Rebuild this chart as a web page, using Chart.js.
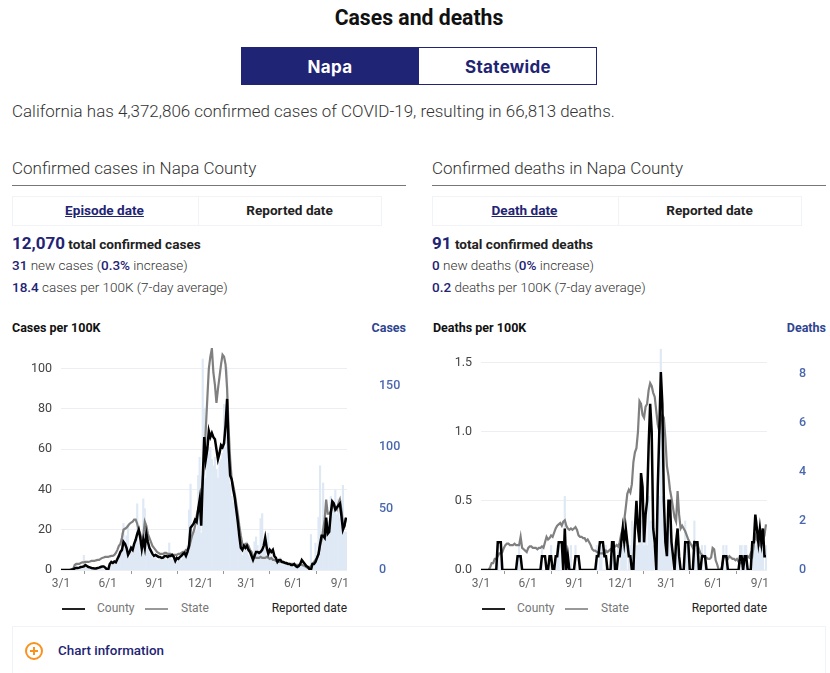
<!DOCTYPE html>
<html>
<head>
<meta charset="utf-8">
<title>Cases and deaths</title>
<script src="https://cdn.jsdelivr.net/npm/chart.js@4"></script>
<style>
  html, body { margin: 0; padding: 0; background: #fff; }
  body { width: 830px; height: 673px; position: relative; overflow: hidden; font-family: Roboto, sans-serif; color: #222; }
  .abs { position: absolute; white-space: nowrap; line-height: 1; }
  .navy { color: #1f2474; }
  .lite { font-weight: 300; color: #333; }
  b.num { font-weight: 500; color: #1f2474; }
  canvas { position: absolute; }
  .rule { position: absolute; height: 1px; width: 394px; background: #777; top: 185px; }
  .tabs { position: absolute; top: 196px; width: 370px; height: 30px; border: 1px solid #f1f3f6; box-sizing: border-box; }
  .tabs i { position: absolute; left: 185px; top: 0; width: 1px; height: 100%; background: #f1f3f6; }
  .key { position: absolute; height: 2px; width: 23px; top: 608px; }
</style>
</head>
<body>
<div class="abs" style="left:0;width:838px;text-align:center;top:7px;font-size:21.2px;font-weight:700;color:#111">Cases and deaths</div>

<div style="position:absolute;left:241px;top:47px;width:356px;height:38px;border:1px solid #1f2474;box-sizing:border-box"></div>
<div style="position:absolute;left:241px;top:47px;width:178px;height:38px;background:#1f2474"></div>
<div class="abs" style="left:241px;width:178px;text-align:center;top:57px;font:700 17px Inter,sans-serif;letter-spacing:.3px;color:#fff">Napa</div>
<div class="abs navy" style="left:419px;width:178px;text-align:center;top:57px;font:700 17px Inter,sans-serif;letter-spacing:.3px">Statewide</div>

<div class="abs lite" style="left:12px;top:103px;font-size:16.95px">California has 4,372,806 confirmed cases of COVID-19, resulting in 66,813 deaths.</div>

<div class="abs lite" style="left:12px;top:160px;font-size:17px">Confirmed cases in Napa County</div>
<div class="abs lite" style="left:432px;top:160px;font-size:17px">Confirmed deaths in Napa County</div>
<div class="rule" style="left:12px"></div>
<div class="rule" style="left:432px"></div>

<div class="tabs" style="left:12px"><i></i></div>
<div class="tabs" style="left:432px"><i></i></div>
<div class="abs navy" style="left:12px;width:185px;text-align:center;top:204px;font-size:13.6px;font-weight:700;text-decoration:underline">Episode date</div>
<div class="abs" style="left:197px;width:185px;text-align:center;top:204px;font-size:13.6px;font-weight:700">Reported date</div>
<div class="abs navy" style="left:432px;width:185px;text-align:center;top:204px;font-size:13.6px;font-weight:700;text-decoration:underline">Death date</div>
<div class="abs" style="left:617px;width:185px;text-align:center;top:204px;font-size:13.6px;font-weight:700">Reported date</div>

<div class="abs" style="left:12px;top:235px;font-size:13.6px;font-weight:700"><span class="navy" style="font-size:17px">12,070</span> total confirmed cases</div>
<div class="abs lite" style="left:12px;top:259px;font-size:13.5px"><b class="num">31</b> new cases (<b class="num">0.3%</b> increase)</div>
<div class="abs lite" style="left:12px;top:281px;font-size:13.5px"><b class="num">18.4</b> cases per 100K (7-day average)</div>

<div class="abs" style="left:432px;top:235px;font-size:13.6px;font-weight:700"><span class="navy" style="font-size:17px">91</span> total confirmed deaths</div>
<div class="abs lite" style="left:432px;top:259px;font-size:13.5px"><b class="num">0</b> new deaths (<b class="num">0%</b> increase)</div>
<div class="abs lite" style="left:432px;top:281px;font-size:13.5px"><b class="num">0.2</b> deaths per 100K (7-day average)</div>

<div class="abs" style="left:12px;top:322px;font-size:12.5px;font-weight:700;color:#111">Cases per 100K</div>
<div class="abs" style="right:424px;top:322px;font-size:12.5px;font-weight:700;color:#2f4590">Cases</div>
<div class="abs" style="left:433px;top:322px;font-size:12.5px;font-weight:700;color:#111">Deaths per 100K</div>
<div class="abs" style="right:4px;top:322px;font-size:12.5px;font-weight:700;color:#2f4590">Deaths</div>

<canvas id="casesChart" width="394" height="250" style="left:12px;top:340px"></canvas>
<canvas id="deathsChart" width="394" height="250" style="left:432px;top:340px"></canvas>

<div class="key" style="left:62px;background:#222"></div>
<div class="abs" style="left:97px;top:602px;font-size:12px;color:#777">County</div>
<div class="key" style="left:145px;background:#999"></div>
<div class="abs" style="left:181px;top:602px;font-size:12px;color:#777">State</div>
<div class="abs" style="right:483px;top:602px;font-size:12px;color:#222">Reported date</div>

<div class="key" style="left:482px;background:#222"></div>
<div class="abs" style="left:517px;top:602px;font-size:12px;color:#777">County</div>
<div class="key" style="left:565px;background:#999"></div>
<div class="abs" style="left:601px;top:602px;font-size:12px;color:#777">State</div>
<div class="abs" style="right:63px;top:602px;font-size:12px;color:#222">Reported date</div>

<div style="position:absolute;left:12px;top:626px;width:814px;height:60px;border:1px solid #f1f3f6;box-sizing:border-box"></div>
<div style="position:absolute;left:25px;top:642px;width:18px;height:18px;border:2px solid #f7931e;border-radius:50%;box-sizing:border-box"></div>
<div style="position:absolute;left:30px;top:650px;width:8px;height:2px;background:#f7931e"></div>
<div style="position:absolute;left:33px;top:647px;width:2px;height:8px;background:#f7931e"></div>
<div class="abs navy" style="left:58px;top:644px;font-size:13.4px;font-weight:500">Chart information</div>

<script>
// readings taken every 3 days, starting 3/1/2020
const sampleStep = 3;
const tickDays = [0, 92, 184, 275, 365, 457, 549];
const tickLabels = ["3/1", "6/1", "9/1", "12/1", "3/1", "6/1", "9/1"];

const countyCases = [
  0,0,0,0,0,0,0,0.2,0.3,0.8,
  1,1,1.2,1.5,1.6,1.8,2.5,2,1.5,1.3,
  1,0.9,0.8,0.8,1,1.2,1.5,1.8,1.8,1.2,
  0.4,0.2,3,4,3.5,4.2,3.8,5.5,7,9,
  10,14,13,11,7.5,9,11,10,13,15,
  18,20,16,10.5,15,11,18,14,11,9.5,
  8,7,7.5,7,6.5,6.5,6,6.2,7,7,
  6.5,7,7,7.5,6.5,4.5,6,5.5,6.5,7,
  8,8.5,7,9,12,21,22,23,25,24,
  30,35,22,45,66,55,60,69,66,68,
  66,65,60,55,58,62,61,63,72,85,
  60,47,45,40,36,30,24,17,11,10,
  12,11,12,10,9,7,5,7,9,9,
  8.5,9,10,12,16,11,8,10,9,10,
  7,6,4,5,5,4,4,3.5,3.5,3,
  3,2.5,2.5,3,2,1.5,2,3,5,4,
  3,2,1.5,0.5,0,3,3,4,6,8,
  13,17,17,16,26,18,19,28,34,33,
  30,31,32,33,27,20,22,26
];

const stateCases = [
  0,0,0,0,0,0,0,0,0.5,2.5,
  3,3,3,3.5,3.8,3.8,4,4,4,4.2,
  4.5,4.5,4.5,4.8,5,5,5.5,6,6.2,6.5,
  6.5,6.5,6.8,7,7,7.5,8.5,10,12,13,
  16,20,20.5,21,22,23,23.5,24,25,25,
  23,20,18,15,17,24,22,18,16,14,
  12,11,10,9,8.5,8,8,8,8.5,8.5,
  8,8,8,7.5,7.5,7.5,7.5,8,8,8.5,
  9,9,10,10,11,14,17,19,22,27,
  30,33,38,45,55,70,85,100,106,110,
  98,92,83,90,96,102,107,106,102,90,
  70,55,45,42,38,33,28,22,17,13,
  12,13,13,12,10,9,7,6.5,6,6,
  6,6.5,6,6,6,6.5,6,5.5,6,5,
  5,4.5,4.5,4,4,4,3.5,3.5,3,3,
  3,3,3,2.8,2.5,2.5,2.5,2.5,2.5,2.2,
  2,1.5,1,1.2,2,3,4,5,6,8,
  12,15,20,25,35,28,28,29,31,33,
  31,30,33,35,30,23,22,26
];

const casesPerDay = [
  0,0,0,0,0,0,1,0,2,3,
  4,2,1,3,2,12,3,2,2,1,
  2,1,1,2,1,2,3,2,1,2,
  1,0,3,6,4,5,6,8,12,14,
  30,38,20,28,36,10,15,14,18,25,
  54,22,14,12,58,50,25,18,14,12,
  10,9,10,8,8,9,8,9,10,8,
  9,22,9,8,9,8,6,10,9,8,
  10,14,9,20,49,70,30,28,35,32,
  77,92,30,172,132,75,108,95,100,90,
  85,92,82,75,88,90,95,135,100,165,
  110,70,60,55,60,42,30,22,18,12,
  15,22,23,12,10,8,6,23,27,20,
  14,42,46,20,18,12,30,14,10,12,
  8,7,5,6,10,4,5,4,5,3,
  3,4,3,2,3,2,3,5,8,4,
  3,2,1,0,29,3,5,22,8,43,
  85,25,71,49,30,40,35,60,50,55,
  65,45,58,42,57,69,31,31
];

const countyDeaths = [
  0,0,0,0,0,0,0,0,0,0,
  0,0.2,0.2,0.2,0,0,0,0,0,0,
  0,0,0,0,0.1,0.1,0.1,0,0,0,
  0,0,0,0,0,0,0,0,0,0,
  0.1,0.1,0.1,0,0,0.1,0.1,0,0,0.1,
  0.1,0.2,0.2,0.2,0,0.3,0,0.1,0,0,
  0,0,0.1,0.1,0.1,0,0,0,0,0,
  0,0,0,0,0,0,0.1,0.1,0.2,0.2,
  0.2,0.1,0.1,0,0,0,0.2,0.2,0,0,
  0.1,0.1,0.2,0.3,0.2,0.3,0.2,0.1,0.1,0,
  0,0.3,0.5,0.3,0.2,0.7,0.6,0.2,0.4,0.5,
  0.9,1.2,1,0.3,0.2,0,0.6,1,1.43,1.2,
  0.5,0.2,0.1,0.5,0.5,0.2,0.1,0,0.2,0.3,
  0.1,0,0,0,0.2,0.2,0.2,0,0,0,
  0.2,0.2,0.2,0,0,0.1,0.1,0.1,0,0,
  0,0,0,0,0,0,0,0,0,0.1,
  0.1,0.1,0,0,0,0,0,0,0,0,
  0.1,0.1,0,0.1,0.1,0,0,0,0.2,0.2,
  0.4,0.3,0.2,0.3,0.2,0.3,0.1,0.1
];

const stateDeaths = [
  0,0,0,0,0,0,0.02,0.05,0.05,0.08,
  0.08,0.1,0.12,0.12,0.13,0.16,0.18,0.19,0.19,0.18,
  0.18,0.18,0.19,0.18,0.18,0.18,0.24,0.16,0.15,0.14,
  0.13,0.16,0.17,0.17,0.16,0.16,0.16,0.15,0.16,0.16,
  0.17,0.16,0.2,0.24,0.22,0.23,0.25,0.24,0.27,0.3,
  0.32,0.33,0.34,0.32,0.35,0.36,0.32,0.3,0.29,0.3,
  0.29,0.3,0.31,0.29,0.25,0.24,0.24,0.23,0.23,0.21,
  0.22,0.2,0.18,0.15,0.14,0.14,0.13,0.13,0.12,0.12,
  0.12,0.11,0.14,0.13,0.14,0.15,0.14,0.16,0.17,0.18,
  0.17,0.2,0.26,0.3,0.36,0.45,0.55,0.58,0.56,0.62,
  0.78,0.85,0.88,1,1.22,1.2,1.12,1.1,1.18,1.2,
  1.3,1.35,1.33,1.28,1.25,1.15,1.05,1,1.08,1.12,
  1.1,0.95,0.75,0.68,0.58,0.52,0.45,0.38,0.35,0.57,
  0.4,0.3,0.32,0.3,0.28,0.25,0.22,0.2,0.18,0.16,
  0.2,0.18,0.19,0.15,0.12,0.11,0.1,0.09,0.09,0.08,
  0.08,0.09,0.16,0.15,0.07,0.04,0,0,0.02,0.08,
  0.1,0.09,0.08,0.1,0.09,0.08,0.08,0.07,0.08,0.06,
  0.05,0.05,0.07,0.08,0.08,0.1,0.09,0.12,0.1,0.18,
  0.25,0.22,0.2,0.18,0.25,0.22,0.25,0.33
];

const deathsPerDay = [
  0,0,0,0,0,0,0,0,0,0,
  0,1,0,1,0,0,0,0,0,0,
  0,0,0,0,0,1,0,0,0,0,
  0,0,0,0,0,0,0,0,0,0,
  1,0,0,0,0,0,1,0,0,0,
  1,1,0,1,0,3,1,0,0,1,
  0,0,1,0,0,0,0,0,0,0,
  0,0,0,0,0,0,1,0,1,1,
  0,0,1,0,0,0,1,1,0,0,
  1,0,1,1,1,1,0,1,1,2,
  0,2,1,1,2,2,2,1,2,1,
  3,2,2,1,0,0,2,3,9,3,
  2,1,1,2,2,1,0,0,1,1,
  0,0,0,0,2,1,1,0,0,0,
  2,1,1,0,0,1,0,1,0,0,
  0,0,0,0,0,0,0,0,0,1,
  0,1,0,0,0,0,0,0,0,0,
  1,1,0,1,1,0,0,0,1,1,
  1,2,1,1,1,1,0,1
];

function toPoints(values) {
  return values.map((v, i) => ({ x: i * sampleStep, y: v }));
}

// tick padding also feeds the scale's top/bottom margin, so clear it to keep the plot area fixed
function fixScale(scale, size) {
  if (scale.isHorizontal()) {
    scale.height = size;
  } else {
    scale.width = size;
  }
  scale.paddingTop = 0;
  scale.paddingBottom = 0;
  scale.paddingLeft = 0;
  scale.paddingRight = 0;
}

function renderChart(canvasId, county, state, daily, leftMax, rightMax, leftStep, rightStep, decimals) {
  const ctx = document.getElementById(canvasId).getContext("2d");

  new Chart(ctx, {
    type: "bar",
    data: {
      datasets: [
        {
          type: "line",
          label: "County",
          data: toPoints(county),
          yAxisID: "yLeft",
          borderColor: "#000",
          borderWidth: 2.5,
          pointRadius: 0,
          tension: 0,
          order: 1
        },
        {
          type: "line",
          label: "State",
          data: toPoints(state),
          yAxisID: "yLeft",
          borderColor: "#808080",
          borderWidth: 2.2,
          pointRadius: 0,
          tension: 0,
          order: 2
        },
        {
          label: "Daily",
          data: toPoints(daily),
          yAxisID: "yRight",
          backgroundColor: "#dfe9f5",
          barPercentage: 1,
          categoryPercentage: 1,
          order: 3
        }
      ]
    },
    options: {
      responsive: false,
      animation: false,
      layout: { padding: { top: 8 } },
      plugins: {
        legend: { display: false },
        title: { display: false },
        tooltip: { enabled: false }
      },
      scales: {
        x: {
          type: "linear",
          offset: false,
          min: 0,
          max: 563,
          afterBuildTicks: scale => { scale.ticks = tickDays.map(v => ({ value: v })); },
          afterFit: scale => fixScale(scale, 20),
          grid: { drawOnChartArea: false, tickLength: 4, color: "#999" },
          border: { display: false },
          ticks: {
            autoSkip: false,
            maxRotation: 0,
            padding: 3,
            color: "#666",
            font: { family: "Roboto", size: 12 },
            callback: value => tickLabels[tickDays.indexOf(value)]
          }
        },
        yLeft: {
          position: "left",
          min: 0,
          max: leftMax,
          afterFit: scale => fixScale(scale, 49),
          grid: { color: "#eceef2", drawTicks: false },
          border: { display: false },
          ticks: {
            stepSize: leftStep,
            includeBounds: false,
            padding: 9,
            color: "#444",
            font: { family: "Roboto", size: 12.5 },
            callback: value => value.toFixed(decimals)
          }
        },
        yRight: {
          position: "right",
          min: 0,
          max: rightMax,
          afterFit: scale => fixScale(scale, 59),
          grid: { display: false },
          border: { display: false },
          ticks: {
            stepSize: rightStep,
            includeBounds: false,
            padding: 24,
            color: "#4a68ad",
            font: { family: "Roboto", size: 12.5, weight: "500" }
          }
        }
      }
    }
  });
}

renderChart("casesChart", countyCases, stateCases, casesPerDay, 110.3, 181, 20, 50, 0);
renderChart("deathsChart", countyDeaths, stateDeaths, deathsPerDay, 1.604, 9.05, 0.5, 2, 1);
</script>
</body>
</html>
